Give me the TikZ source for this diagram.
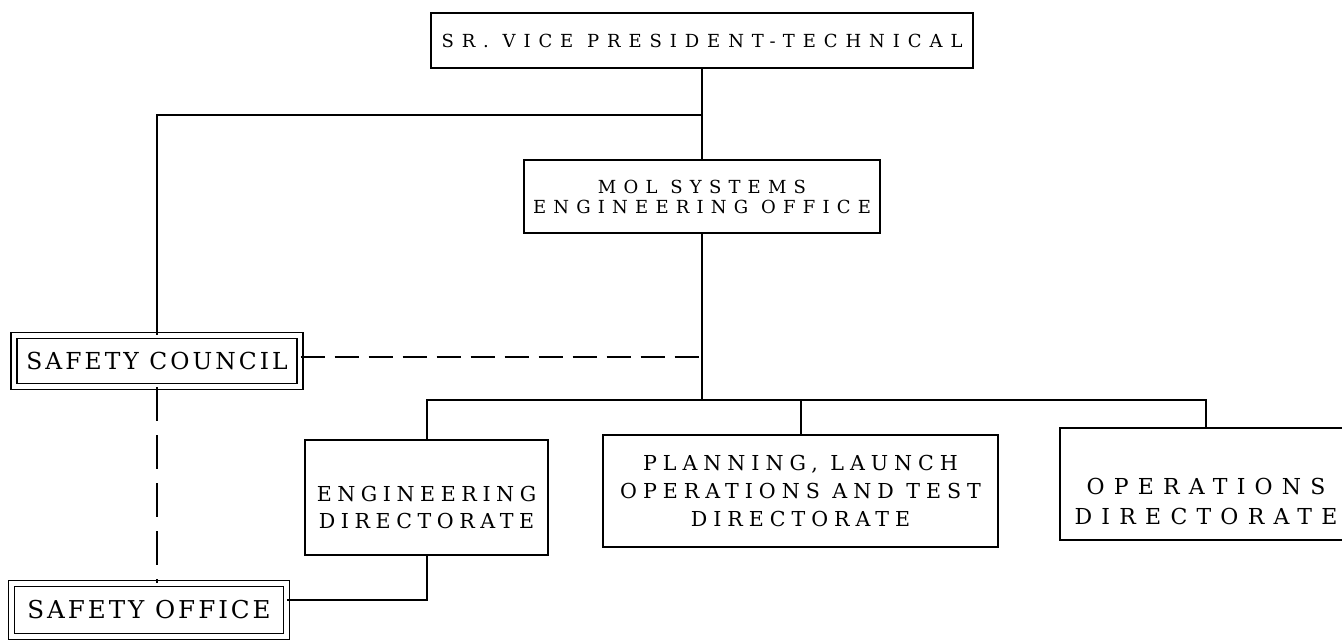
\documentclass[tikz,border=0pt]{standalone}
\usepackage{fontspec}
\usepackage{tikz}
\usetikzlibrary{positioning}
\newfontfamily\chartfont{DejaVu Serif}
\newcommand\orgfont[3]{\chartfont\addfontfeature{LetterSpace=#3}\fontsize{#1}{#2}\selectfont}
\newcommand\lowered[2]{\raisebox{#1}[0pt][0pt]{\begin{tabular}{@{}c@{}}#2\end{tabular}}}
\tikzset{
  unit/.style={
    draw=black,
    line width=1pt,
    align=center,
    inner sep=2pt
  },
  safety/.style={
    unit,
    line width=.7pt,
    double,
    double distance=2.3pt
  },
  link/.style={
    line width=1pt,
    black
  },
  dotted link/.style={
    link,
    dash pattern=on 17pt off 7pt
  }
}
\begin{document}
\begin{tikzpicture}[x=.5pt,y=-.5pt]
\useasboundingbox (0,0) rectangle (1342,641);
\clip (0,0) rectangle (1342,641);
\node[unit, minimum width=271pt, minimum height=27.5pt, font=\orgfont{9}{11}{44}] (vp) at (702,40.5) {SR. VICE PRESIDENT-TECHNICAL};
\node[unit, minimum width=178pt, minimum height=36.5pt, font=\orgfont{9}{10}{40}] (mol) at (702,196.5) {MOL SYSTEMS\\ENGINEERING OFFICE};
\node[safety, minimum width=143pt, minimum height=25.3pt, font=\orgfont{11.7}{14}{13}] (council) at (157,361) {SAFETY COUNCIL};
\node[safety, minimum width=137.3pt, minimum height=26.3pt, font=\orgfont{12.3}{15}{12}] (office) at (149,610) {SAFETY OFFICE};
\node[unit, minimum width=121.5pt, minimum height=57.5pt, font=\orgfont{10.3}{13.5}{27}] (eng) at (426.5,497.5) {\lowered{-8.5pt}{ENGINEERING\\DIRECTORATE}};
\node[unit, minimum width=197.5pt, minimum height=56pt, font=\orgfont{10.3}{14}{29}] (plan) at (800.5,491) {PLANNING, LAUNCH\\OPERATIONS AND TEST\\DIRECTORATE};
\node[unit, minimum width=146pt, minimum height=56pt, font=\orgfont{11}{15}{42}] (ops) at (1206,484) {\lowered{-12.5pt}{OPERATIONS\\DIRECTORATE}};
\coordinate (split) at (702,115);
\coordinate (bus) at (702,400);
\draw[link] (vp) -- (mol);
\draw[link] (split) -| (council);
\draw[link] (mol) -- (bus);
\draw[link] (eng) |- (bus) -| (ops);
\draw[link] (plan) -- (plan |- bus);
\draw[link] ([yshift=5pt]office.east) -| (eng);
\draw[dotted link, dash pattern=on 12pt off 5pt] ([yshift=2pt]council.east) -- ([yshift=2pt]council.east -| bus);
\draw[dotted link] (council) -- (council |- office.north);
\end{tikzpicture}
\end{document}
